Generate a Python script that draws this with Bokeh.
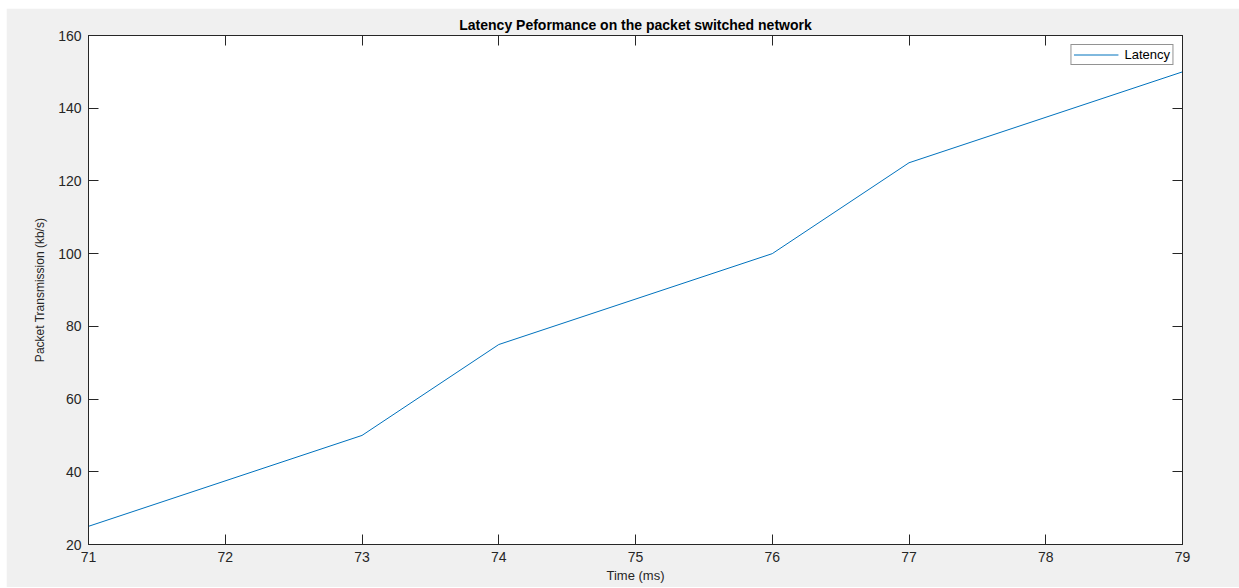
from bokeh.plotting import figure
from bokeh.models import Range1d, LinearAxis, FixedTicker, Legend, LegendItem
from bokeh.embed import file_html
from bokeh.resources import INLINE

time_ms = [71, 73, 74, 76, 77, 79]
latency = [25, 50, 75, 100, 125, 150]
x_ticks = [71, 72, 73, 74, 75, 76, 77, 78, 79]
y_ticks = [20, 40, 60, 80, 100, 120, 140, 160]

FONT = "Liberation Sans"
AX = "#262626"
BG = "#f0f0f0"

p = figure(width=1233, height=579, frame_width=1094, frame_height=509,
           x_range=Range1d(71, 79), y_range=Range1d(20, 160),
           output_backend="svg", toolbar_location=None,
           min_border_left=82, min_border_right=57, min_border_top=27, min_border_bottom=43,
           background_fill_color="white", border_fill_color=BG)
p.margin = (8, 0, 0, 6)

p.title.text = "Latency Peformance on the packet switched network"
p.title.align = "center"
p.title.text_font = FONT
p.title.text_font_size = "14px"
p.title.text_font_style = "bold"
p.title.text_color = "#000000"
p.title.standoff = 6

p.grid.visible = False
p.outline_line_color = AX

def style(ax):
    ax.axis_line_color = AX
    ax.major_tick_line_color = AX
    ax.minor_tick_line_color = None
    ax.major_tick_in = 10
    ax.major_tick_out = 0
    ax.major_label_text_font = FONT
    ax.major_label_text_font_size = "14px"
    ax.major_label_text_color = AX
    ax.axis_label_text_font = FONT
    ax.axis_label_text_font_size = "13px"
    ax.axis_label_text_font_style = "normal"
    ax.axis_label_text_color = AX

xa = p.xaxis[0]
ya = p.yaxis[0]
xa.ticker = FixedTicker(ticks=x_ticks)
ya.ticker = FixedTicker(ticks=y_ticks)
style(xa); style(ya)
xa.axis_label = "Time (ms)"
ya.axis_label = "Packet Transmission (kb/s)"
ya.axis_label_text_font_size = "12px"
xa.major_label_standoff = 7
xa.axis_label_standoff = 3
ya.major_label_standoff = 7
ya.axis_label_standoff = 8

top = LinearAxis(ticker=FixedTicker(ticks=x_ticks))
style(top)
top.major_label_overrides = {t: "" for t in x_ticks}
top.major_label_standoff = 0
p.add_layout(top, "above")
right = LinearAxis(ticker=FixedTicker(ticks=y_ticks))
style(right)
right.major_label_overrides = {t: "" for t in y_ticks}
right.major_label_standoff = 0
p.add_layout(right, "right")

r = p.line(time_ms, latency, line_color="#0072BD", line_width=1)

leg = Legend(items=[LegendItem(label="Latency", renderers=[r])], location="top_right")
leg.border_line_color = AX
leg.border_line_width = 1
leg.background_fill_color = "white"
leg.label_text_font = FONT
leg.label_text_font_size = "13px"
leg.label_text_color = "#000000"
leg.glyph_width = 45
leg.glyph_height = 15
leg.label_height = 15
leg.label_standoff = 6
leg.padding = 2
leg.spacing = 0
leg.margin = 9
p.add_layout(leg)

open("out.html", "w").write(file_html(p, INLINE))
